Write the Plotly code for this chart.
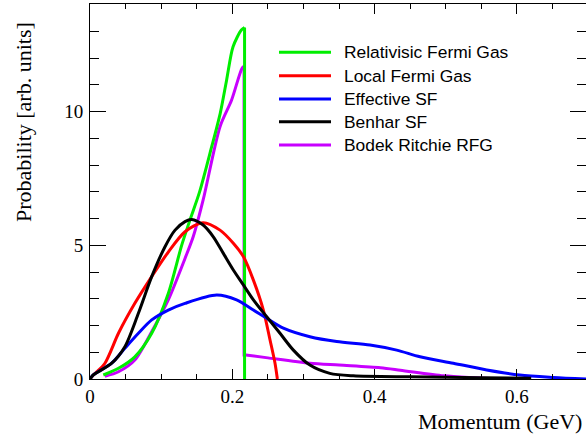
import plotly.graph_objects as go

# ---- data (momentum in GeV, probability in arb. units) ----
rfg_p = [0.0187, 0.040, 0.063, 0.0867, 0.110, 0.1288, 0.1405, 0.154, 0.171, 0.183, 0.192, 0.201, 0.2127, 0.2172]
rfg_v = [0.15, 0.40, 0.83, 1.71, 3.20, 5.00, 5.95, 7.00, 8.69, 9.94, 11.19, 12.43, 13.06, 13.15]
rfg_drop_p = [0.2172, 0.2172]
rfg_drop_v = [13.15, 0.0]

lfg_p = [0.0, 0.0047, 0.021, 0.040, 0.063, 0.0867, 0.110, 0.1335, 0.159, 0.1827, 0.2014, 0.2155, 0.2296, 0.2436, 0.253, 0.260, 0.2633]
lfg_v = [0.0, 0.15, 0.59, 1.71, 2.83, 3.83, 4.75, 5.51, 5.85, 5.57, 5.08, 4.58, 3.70, 2.58, 1.46, 0.59, 0.0]

esf_p = [0.0, 0.0047, 0.0305, 0.049, 0.068, 0.0867, 0.110, 0.1335, 0.178, 0.206, 0.2296, 0.2483, 0.2717, 0.309, 0.3467, 0.3935, 0.431, 0.4638, 0.5106, 0.5575, 0.604, 0.651, 0.697]
esf_v = [0.0, 0.15, 0.59, 1.15, 1.71, 2.21, 2.58, 2.83, 3.14, 2.96, 2.58, 2.27, 1.90, 1.58, 1.40, 1.27, 1.08, 0.83, 0.59, 0.34, 0.15, 0.06, 0.0]

bsf_p = [0.0, 0.0047, 0.0305, 0.049, 0.068, 0.0867, 0.1054, 0.1195, 0.1335, 0.143, 0.159, 0.1733, 0.1874, 0.2014, 0.2155, 0.2296, 0.2483, 0.267, 0.2858, 0.309, 0.337, 0.37, 0.45, 0.55, 0.62]
bsf_v = [0.0, 0.15, 0.59, 1.21, 2.46, 3.83, 4.95, 5.57, 5.89, 5.97, 5.76, 5.32, 4.70, 4.08, 3.52, 2.96, 2.33, 1.71, 1.08, 0.52, 0.21, 0.12, 0.08, 0.05, 0.03]

brr_p = [0.021, 0.040, 0.063, 0.0867, 0.110, 0.1335, 0.145, 0.159, 0.1827, 0.199, 0.2135, 0.2165]
brr_v = [0.10, 0.27, 0.71, 1.77, 2.96, 4.51, 5.32, 6.70, 9.44, 10.44, 11.62, 11.70]
brr_drop_p = [0.2165, 0.2165, 0.219]
brr_drop_v = [11.70, 0.90, 0.90]
brr_tail_p = [0.219, 0.25, 0.309, 0.35, 0.408, 0.436, 0.497, 0.54, 0.58]
brr_tail_v = [0.90, 0.79, 0.59, 0.52, 0.42, 0.33, 0.12, 0.05, 0.0]

names = ["Relativisic Fermi Gas", "Local Fermi Gas", "Effective SF", "Benhar SF", "Bodek Ritchie RFG"]
colors = ["#00ee00", "#ff0000", "#0000ff", "#000000", "#c800ff"]

x_ticks = [0, 0.2, 0.4, 0.6]
x_ticklabels = ["0", "0.2", "0.4", "0.6"]
y_ticks = [0, 5, 10]
y_ticklabels = ["0", "5", "10"]

fig = go.Figure()


def add(xs, ys, color, shape):
    fig.add_trace(go.Scatter(
        x=xs, y=ys, mode="lines", showlegend=False, hoverinfo="skip",
        line=dict(color=color, width=3, shape=shape, smoothing=0.8 if shape == "spline" else None),
    ))


# drawing order (later on top)
add(brr_p, brr_v, colors[4], "spline")
add(brr_drop_p, brr_drop_v, colors[4], "linear")
add(brr_tail_p, brr_tail_v, colors[4], "spline")
add(rfg_p, rfg_v, colors[0], "spline")
add(rfg_drop_p, rfg_drop_v, colors[0], "linear")
add(lfg_p, lfg_v, colors[1], "spline")
add(esf_p, esf_v, colors[2], "spline")
add(bsf_p, bsf_v, colors[3], "spline")

# ---- legend (drawn as line samples + text in pixel-like paper coordinates) ----
L, T, PW, PH = 90, 4, 496, 375  # plot area geometry


def px2x(px):
    return (px - L) / PW


def py2y(py):
    return (T + PH - py) / PH


legend_y = [52.3, 75.7, 99.0, 121.7, 145.0]
shapes = []
annotations = []
for name, col, ly in zip(names, colors, legend_y):
    shapes.append(dict(type="line", xref="paper", yref="paper",
                       x0=px2x(279), x1=px2x(331), y0=py2y(ly), y1=py2y(ly),
                       line=dict(color=col, width=3)))
    annotations.append(dict(text=name, xref="paper", yref="paper",
                            x=px2x(342), y=py2y(ly), xanchor="left", yanchor="middle",
                            showarrow=False,
                            font=dict(family="Liberation Sans, Arial, sans-serif", size=17.4, color="black")))

serif = "Liberation Serif, Times New Roman, serif"
annotations += [
    dict(text="Momentum (GeV)", xref="paper", yref="paper", x=px2x(584), y=py2y(421),
         xanchor="right", yanchor="middle", showarrow=False,
         font=dict(family=serif, size=22, color="black")),
    dict(text="Probability [arb. units]", xref="paper", yref="paper", x=px2x(23), y=py2y(122),
         xanchor="center", yanchor="middle", textangle=-90, showarrow=False,
         font=dict(family=serif, size=22, color="black")),
]

fig.update_layout(
    width=586, height=441,
    margin=dict(l=L, r=0, t=T, b=441 - T - PH),
    paper_bgcolor="white", plot_bgcolor="white",
    showlegend=False,
    xaxis=dict(
        range=[0, 0.697], tickvals=x_ticks, ticktext=x_ticklabels,
        ticks="inside", ticklen=10, tickcolor="black", tickwidth=1,
        minor=dict(dtick=0.05, ticks="inside", ticklen=5, tickcolor="black"),
        showline=True, linecolor="black", linewidth=1, mirror="ticks",
        showgrid=False, zeroline=False,
        tickfont=dict(family=serif, size=19, color="black"),
    ),
    yaxis=dict(
        range=[0, 14.03], tickvals=y_ticks, ticktext=y_ticklabels,
        ticks="inside", ticklen=16, tickcolor="black", tickwidth=1,
        minor=dict(dtick=1, ticks="inside", ticklen=9, tickcolor="black"),
        showline=True, linecolor="black", linewidth=1, mirror="ticks",
        showgrid=False, zeroline=False,
        tickfont=dict(family=serif, size=19, color="black"),
        ticklabelstandoff=2,
    ),
    shapes=shapes,
    annotations=annotations,
)

fig.write_html("out.html", config={"displayModeBar": False},
               post_script="document.body.style.margin='0px';")
